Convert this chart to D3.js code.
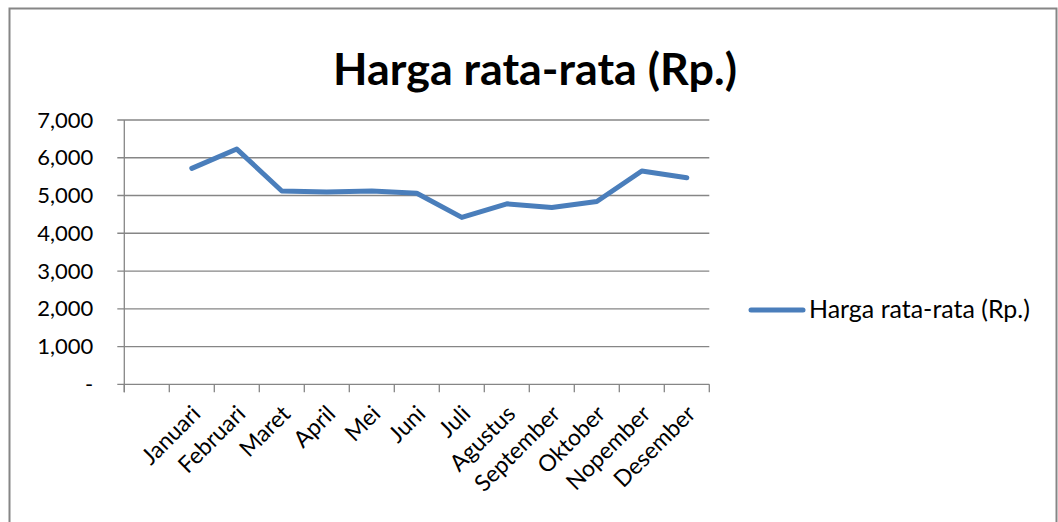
<!DOCTYPE html>
<html><head><meta charset="utf-8">
<script src="https://cdn.jsdelivr.net/npm/d3@7"></script>
<style>
html,body{margin:0;padding:0;background:#fff;}
svg{display:block;}
text{font-family:Lato,"Open Sans",sans-serif;fill:#000;}
</style></head>
<body>
<svg id="chart" width="1058" height="522"></svg>
<script>
const categories = ["", "Januari", "Februari", "Maret", "April", "Mei", "Juni", "Juli", "Agustus", "September", "Oktober", "Nopember", "Desember"];
const values = [null, 5720, 6230, 5120, 5090, 5120, 5060, 4420, 4780, 4680, 4840, 5650, 5470];
const yTicks = [0, 1000, 2000, 3000, 4000, 5000, 6000, 7000];
const title = "Harga rata-rata (Rp.)";
const seriesName = "Harga rata-rata (Rp.)";

(function () {
const svg = d3.select("#chart");
const gray = "#868686";
const blue = "#4a7ebb";

// outer frame
svg.append("rect").attr("x", 9.5).attr("y", 8.5).attr("width", 1047).attr("height", 530)
  .attr("fill", "none").attr("stroke", gray).attr("stroke-width", 2);

const pl = 124.3, pr = 709.3, pt = 120, pb = 384.3;
const x = d3.scaleBand().domain(categories).range([pl, pr]).padding(0);
const y = d3.scaleLinear().domain([0, 7000]).range([pb, pt]);

function fit(sel, target) {
  const w = sel.node().getComputedTextLength();
  const fs = parseFloat(sel.attr("font-size"));
  sel.attr("font-size", fs * target / w);
}

// title
const t = svg.append("text").attr("x", 535).attr("y", 85).attr("text-anchor", "middle")
  .attr("font-weight", "bold").attr("font-size", 40).text(title);
fit(t, 404);

// gridlines
svg.append("g").selectAll("line").data(yTicks).join("line")
  .attr("x1", pl - 7).attr("x2", pr).attr("y1", d => y(d)).attr("y2", d => y(d))
  .attr("stroke", gray).attr("stroke-width", 1.3);

// y axis
const fmt = d => d === 0 ? "-" : d3.format(",")(d);
const yAxis = d3.axisLeft(y).tickValues(yTicks).tickFormat(fmt).tickSize(0).tickPadding(31);
const yg = svg.append("g").attr("transform", `translate(${pl},0)`).call(yAxis);
yg.select(".domain").remove();
yg.selectAll("text").attr("font-size", 22).attr("fill", "#000").attr("font-family", "Lato, sans-serif");
svg.append("line").attr("x1", pl).attr("x2", pl).attr("y1", pt).attr("y2", pb + 8)
  .attr("stroke", gray).attr("stroke-width", 1.3);

// x axis ticks at band edges
const edges = categories.map(c => x(c)).concat([pr]);
svg.append("g").selectAll("line").data(edges).join("line")
  .attr("x1", d => d).attr("x2", d => d).attr("y1", pb).attr("y2", pb + 8)
  .attr("stroke", gray).attr("stroke-width", 1.3);

// x labels
svg.append("g").selectAll("text").data(categories.filter(c => c !== "")).join("text")
  .attr("text-anchor", "end").attr("font-size", 23)
  .attr("transform", c => `translate(${x(c) + x.bandwidth() / 2 + 10},${pb + 31}) rotate(-45)`)
  .text(c => c);

// line
const line = d3.line().defined(d => d.v != null)
  .x(d => x(d.c) + x.bandwidth() / 2).y(d => y(d.v));
svg.append("path").datum(categories.map((c, i) => ({c, v: values[i]})))
  .attr("d", line).attr("fill", "none").attr("stroke", blue).attr("stroke-width", 5)
  .attr("stroke-linejoin", "round").attr("stroke-linecap", "round");

// legend
svg.append("line").attr("x1", 751).attr("x2", 803).attr("y1", 310).attr("y2", 310)
  .attr("stroke", blue).attr("stroke-width", 5).attr("stroke-linecap", "round");
const lt = svg.append("text").attr("x", 809).attr("y", 318).attr("font-size", 21).text(seriesName);
fit(lt, 221);
})();
</script>
</body></html>
